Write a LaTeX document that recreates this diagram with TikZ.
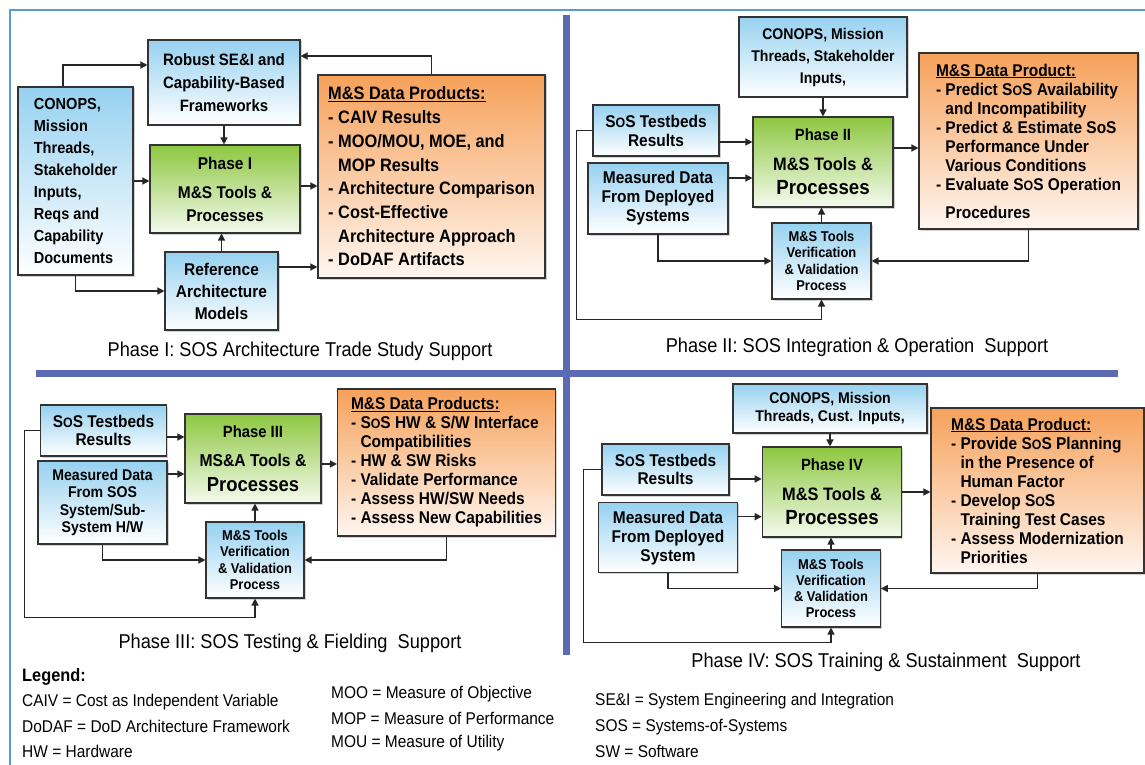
\documentclass[tikz,border=0pt]{standalone}
\usepackage{fontspec}
\setmainfont{Liberation Sans}
\newfontfamily\nb{Liberation Sans}[FakeStretch=0.91]
\newfontfamily\nl{Liberation Sans}[FakeStretch=0.91]
\usetikzlibrary{arrows.meta,shadows,calc}
\definecolor{blueT}{HTML}{96D1F0}
\definecolor{greenT}{HTML}{8DC740}
\definecolor{greenB}{HTML}{F4FAEE}
\definecolor{orT}{HTML}{F6A15A}
\definecolor{orB}{HTML}{FFF6F0}
\definecolor{barC}{HTML}{5B6AB3}
\definecolor{frameC}{HTML}{5A9BD5}
\newcommand\fs[2]{\fontsize{#1}{#2}\selectfont}
\newcommand\sos{S\scalebox{0.8}{O}S}
\tikzset{
  box/.style={draw=black!80, line width=1.1pt, inner sep=2pt,
     drop shadow={shadow xshift=1.5pt, shadow yshift=-1.5pt, opacity=0.35}},
  bluebox/.style={box, top color=blueT, bottom color=white, align=center},
  greenbox/.style={box, top color=greenT, bottom color=greenB, align=center},
  orbox/.style={box, top color=orT, bottom color=orB, align=left},
  arr/.style={-{Triangle[length=7pt,width=7pt]}, line width=1.3pt, draw=black!85},
  captxt/.style={font=\nb\fs{20}{24}, inner sep=0pt},
  legtxt/.style={font=\nl\fs{17}{20}, anchor=west, inner sep=0pt},
  bar/.style={draw=barC, line width=7pt},
}
\begin{document}
\begin{tikzpicture}[x=1pt,y=-1pt]
\useasboundingbox (0,0) rectangle (1145,765);
\fill[white] (0,0) rectangle (1145,765);
% frame
\draw[frameC, line width=1.2pt] (1145,10) -- (10,10) -- (10,765);
% dividers
\draw[bar] (566,15) -- (566,655);
\draw[bar] (36,373) -- (1118,373);

% ---------------- Phase I
\node[bluebox, align=left, minimum width=115, minimum height=188, font=\nb\bfseries\fs{16}{22}] (c1) at (75.5,181)
 {CONOPS,\\Mission\\Threads,\\Stakeholder\\Inputs,\\Reqs and\\Capability\\Documents};
\node[bluebox, minimum width=152, minimum height=85, font=\nb\bfseries\fs{16.5}{23}] (rob) at (224,82.5)
 {Robust SE\&I and\\Capability-Based\\Frameworks};
\node[greenbox, minimum width=150, minimum height=88, font=\nb\bfseries\fs{17}{23}] (ph1) at (225,189)
 {Phase I\\[6pt]M\&S Tools \&\\Processes};
\node[bluebox, minimum width=113, minimum height=78, font=\nb\bfseries\fs{17}{22}] (ref) at (221.5,291)
 {Reference\\Architecture\\Models};
\node[orbox, minimum width=227, minimum height=203, font=\nb\bfseries\fs{18}{23.7}] (o1) at (431.5,176.5)
 {\underline{M\&S Data Products:}\\
  - CAIV Results\\
  - MOO/MOU, MOE, and\\
  \phantom{- }MOP Results\\
  - Architecture Comparison\\
  - Cost-Effective\\
  \phantom{- }Architecture Approach\\
  - DoDAF Artifacts};
\node[captxt] (cap1) at (300,351) {Phase I: SOS Architecture Trade Study Support};

\draw[arr] ([xshift=-12.5pt]c1.north) |- ([yshift=17.5pt]rob.west);
\draw[arr] (o1.north) |- ([yshift=26.5pt]rob.east);
\draw[arr] (rob.south) -- (rob.south |- ph1.north);
\draw[arr] (c1.east) -- (c1.east -| ph1.west);
\draw[arr] ([yshift=3pt]ph1.east) -- ([yshift=3pt]ph1.east -| o1.west);
\draw[arr] (ref.north) -- (ref.north |- ph1.south);
\draw[arr] ([yshift=24pt]ref.east) -- ([yshift=24pt]ref.east -| o1.west);
\draw[arr] (c1.south) |- (ref.west);

% ---------------- Phase II
\node[bluebox, minimum width=168, minimum height=80, font=\nb\bfseries\fs{15.5}{22}] (c2) at (823,57)
 {CONOPS, Mission\\Threads, Stakeholder\\Inputs,};
\node[bluebox, minimum width=126, minimum height=51, font=\nb\bfseries\fs{17}{19}] (tb2) at (656,130.5)
 {\sos{} Testbeds\\Results};
\node[bluebox, minimum width=140, minimum height=71, font=\nb\bfseries\fs{17}{19}] (md2) at (658,198.5)
 {Measured Data\\From Deployed\\Systems};
\node[greenbox, minimum width=140, minimum height=90, font=\nb\bfseries\fs{18}{24}] (ph2) at (823,162)
 {{\fs{16.3}{16}Phase II}\\[6pt]M\&S Tools \&\\{\fs{20.5}{20}Processes}};
\node[bluebox, minimum width=99, minimum height=76, font=\nb\bfseries\fs{14.2}{16.2}] (vv2) at (821.5,261)
 {M\&S Tools\\Verification\\\& Validation\\Process};
\node[orbox, minimum width=219, minimum height=176, font=\nb\bfseries\fs{17}{19}] (o2) at (1028.5,141)
 {\underline{M\&S Data Product:}\\
  - Predict \sos{} Availability\\
  \phantom{- }and Incompatibility\\
  - Predict \& Estimate SoS\\
  \phantom{- }Performance Under\\
  \phantom{- }Various Conditions\\
  - Evaluate \sos{} Operation\\[9pt]
  \phantom{- }Procedures};
\node[captxt] (cap2) at (857,347) {Phase II: SOS Integration \& Operation\ \ Support};

\draw[arr] (c2.south) -- (c2.south |- ph2.north);
\draw[arr] ([yshift=-11.5pt]tb2.east) -- ([yshift=-11.5pt]tb2.east -| ph2.west);
\draw[arr] ([yshift=20.5pt]md2.east) -- ([yshift=20.5pt]md2.east -| ph2.west);
\draw[arr] ([yshift=14pt]ph2.east) -- ([yshift=14pt]ph2.east -| o2.west);
\draw[arr] (vv2.north) -- (vv2.north |- ph2.south);
\draw[arr] (md2.south) |- (vv2.west);
\draw[arr] (o2.south) |- (vv2.east);
\draw[arr] (tb2.west) -- ++(-16pt,0) |- ([yshift=-20pt]vv2.south) -- (vv2.south);

% ---------------- Phase III
\node[bluebox, minimum width=126, minimum height=51, font=\nb\bfseries\fs{17}{18.5}] (tb3) at (103.5,430.5)
 {\sos{} Testbeds\\Results};
\node[bluebox, minimum width=129, minimum height=83, font=\nb\bfseries\fs{15.5}{17.4}] (md3) at (102.5,502.5)
 {Measured Data\\From SOS\\System/Sub-\\System H/W};
\node[greenbox, minimum width=136, minimum height=89, font=\nb\bfseries\fs{17.2}{25}] (ph3) at (253,458.5)
 {{\fs{16.3}{16}Phase III}\\[4pt]MS\&A Tools \&\\{\fs{20.3}{20}Processes}};
\node[bluebox, minimum width=98, minimum height=76, font=\nb\bfseries\fs{14.2}{16.2}] (vv3) at (255,560)
 {M\&S Tools\\Verification\\\& Validation\\Process};
\node[orbox, minimum width=218, minimum height=147, font=\nb\bfseries\fs{17}{19}] (o3) at (446.5,462.5)
 {\underline{M\&S Data Products:}\\
  - \sos{} HW \& S/W Interface\\
  \phantom{- }Compatibilities\\
  - HW \& SW Risks\\
  - Validate Performance\\
  - Assess HW/SW Needs\\
  - Assess New Capabilities};
\node[captxt] (cap3) at (290,643) {Phase III: SOS Testing \& Fielding\ \ Support};

\draw[arr] ([yshift=-6.5pt]tb3.east) -- ([yshift=-6.5pt]tb3.east -| ph3.west);
\draw[arr] ([yshift=28.5pt]md3.east) -- ([yshift=28.5pt]md3.east -| ph3.west);
\draw[arr] ([yshift=-5.5pt]ph3.east) -- ([yshift=-5.5pt]ph3.east -| o3.west);
\draw[arr] (vv3.north) -- (vv3.north |- ph3.south);
\draw[arr] (md3.south) |- (vv3.west);
\draw[arr] (o3.south) |- (vv3.east);
\draw[arr] (tb3.west) -- ++(-15.5pt,0) |- ([yshift=-19pt]vv3.south) -- (vv3.south);

% ---------------- Phase IV
\node[bluebox, minimum width=194, minimum height=49, font=\nb\bfseries\fs{15.5}{18}] (c4) at (830,408.5)
 {CONOPS, Mission\\Threads, Cust. Inputs,};
\node[bluebox, minimum width=127, minimum height=51, font=\nb\bfseries\fs{17}{18.7}] (tb4) at (665.5,469.5)
 {\sos{} Testbeds\\Results};
\node[bluebox, minimum width=139, minimum height=70, font=\nb\bfseries\fs{17}{19}] (md4) at (668,537.7)
 {Measured Data\\From Deployed\\System};
\node[greenbox, minimum width=139.5, minimum height=90, font=\nb\bfseries\fs{18}{24}] (ph4) at (832,492)
 {{\fs{16.3}{16}Phase IV}\\[6pt]M\&S Tools \&\\{\fs{20.5}{20}Processes}};
\node[bluebox, minimum width=98.6, minimum height=77, font=\nb\bfseries\fs{14.2}{16}] (vv4) at (831,588.5)
 {M\&S Tools\\Verification\\\& Validation\\Process};
\node[orbox, minimum width=213, minimum height=165, font=\nb\bfseries\fs{17}{19}] (o4) at (1037.5,490.5)
 {\underline{M\&S Data Product:}\\
  - Provide \sos{} Planning\\
  \phantom{- }in the Presence of\\
  \phantom{- }Human Factor\\
  - Develop \sos{}\\
  \phantom{- }Training Test Cases\\
  - Assess Modernization\\
  \phantom{- }Priorities};
\node[captxt] (cap4) at (886,662) {Phase IV: SOS Training \& Sustainment\ \ Support};

\draw[arr] (c4.south) -- (c4.south |- ph4.north);
\draw[arr] ([yshift=-9.5pt]tb4.east) -- ([yshift=-9.5pt]tb4.east -| ph4.west);
\draw[arr] ([yshift=21pt]md4.east) -- ([yshift=21pt]md4.east -| ph4.west);
\draw[arr] (ph4.east) -- (ph4.east -| o4.west);
\draw[arr] (vv4.north) -- (vv4.north |- ph4.south);
\draw[arr] (md4.south) |- (vv4.west);
\draw[arr] (o4.south) |- (vv4.east);
\draw[arr] (tb4.west) -- ++(-18pt,0) |- ([yshift=-14.7pt]vv4.south) -- (vv4.south);

% ---------------- Legend
\node[legtxt, font=\nl\bfseries\fs{18}{20}] (lg) at (22,677) {Legend:};
\node[legtxt] (l1) at (22,702) {CAIV = Cost as Independent Variable};
\node[legtxt] (l2) at (22,726) {DoDAF = DoD Architecture Framework};
\node[legtxt] (l3) at (22,751) {HW = Hardware};
\node[legtxt] (l4) at (331,694) {MOO = Measure of Objective};
\node[legtxt] (l5) at (331,718) {MOP = Measure of Performance};
\node[legtxt] (l6) at (331,743) {MOU = Measure of Utility};
\node[legtxt] (l7) at (595,701) {SE\&I = System Engineering and Integration};
\node[legtxt] (l8) at (595,727) {SOS = Systems-of-Systems};
\node[legtxt] (l9) at (595,751) {SW = Software};
\end{tikzpicture}
\end{document}
